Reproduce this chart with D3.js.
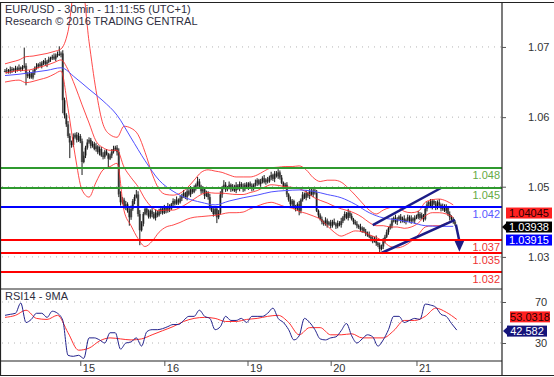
<!DOCTYPE html>
<html lang="en">
  <head>
    <meta charset="UTF-8" />
    <title>EUR/USD 30min</title>
    <script src="https://d3js.org/d3.v7.min.js"></script>
    <style>
      body { margin: 0; background: #fff; }
      svg { display: block; font-family: "Liberation Sans", Arial, sans-serif; }
      .grid { stroke: #b4b4b4; stroke-dasharray: 1, 5; }
      .frame { stroke: #222; stroke-width: 1.2; }
      .axis text { fill: #333; font-size: 11px; }
      .axis line { stroke: #555; }
      .axis path { display: none; }
    </style>
  </head>
  <body>
    <svg width="554" height="377"></svg>
    <script>
      // 30-min bars from 14 Dec, prices in pips above 1.0000 (630 = 1.0630)
      var closes = [
        630,631,629,632,633,631,634,632,635,633,636,638,
        625,622,626,620,628,
        634,637,640,638,642,645,641,644,
        648,650,652,649,654,656,655,657,
        585,562,548,530,520,516,
        528,532,524,530,522,
        490,500,512,
        520,524,515,518,510,514,
        505,510,500,498,506,502,495,500,
        506,510,512,505,
        440,428,
        432,420,425,415,405,418,
        430,436,440,
        410,385,395,
        410,418,412,406,415,410,404,412,408,414,
        418,412,420,415,422,418,
        425,430,426,432,428,434,
        438,442,436,445,440,448,444,450,
        455,460,452,
        445,448,438,442,436,
        420,415,410,418,405,412,
        440,450,455,448,
        450,455,448,452,446,454,450,456,452,448,455,451,457,453,449,455,
        458,462,456,460,465,459,463,460,
        466,470,464,472,468,474,466,
        458,452,455,
        440,432,425,430,420,418,425,415,
        432,440,435,442,438,445,440,446,443,
        415,408,402,
        398,395,400,394,397,392,398,395,391,396,393,399,
        405,410,404,412,407,402,
        398,395,392,390,386,388,383,380,378,
        375,372,368,372,365,362,
        356,360,
        368,375,382,388,392,
        400,404,398,402,406,400,403,398,401,405,399,403,400,404,
        406,410,404,408,402,
        418,425,428,422,430,426,420,428,
        424,418,422,415,420,
        410,405,402,398,394
      ];
      // wick above max(open, close) and below min(open, close), pips
      var wickUp = [
        3,4,2,5,3,2,4,3,5,2, 3,28,4,3,5,2,4,3,5,2, 4,3,2,5,3,4,2,3,5,3,
        4,12,3,5,4,3,5,4,3,6, 3,4,5,3,4,6,3,5,4,3, 4,3,5,2,4,3,5,3,4,2,
        3,4,5,3,4,6,5,4,3,5, 3,4,5,3,4,7,5,6,4,3, 4,3,5,2,4,3,5,3,4,2,
        3,4,2,5,3,2,4,3,5,2, 4,3,5,2,4,3,5,3,4,2, 7,4,3,5,2,4,3,5,3,4,
        2,3,4,5,3,7,4,3,5,2, 4,3,5,2,4,3,5,3,4,2, 3,4,2,5,3,2,4,3,5,2,
        4,3,5,2,4,4,5,3,4,2, 3,4,2,5,3,2,4,3,5,2, 4,3,5,2,4,5,5,3,4,2,
        3,4,2,5,3,2,4,3,5,2, 4,3,5,2,4,3,6,3,4,2, 3,4,2,5,3,2,4,3,5,2,
        4,3,5,2,4,3,5,3,4,2, 3,4,2,5,3,2,4,3,5,2, 4,3,5,2,4,3,5,3,4,2,
        3,4,2,5,3,2,4,3,5,2, 4,3,5,2,4,3,3,2
      ];
      var wickDn = [
        2,4,3,3,5,2,4,3,2,4, 3,2,17,3,4,2,3,4,2,3, 2,4,3,3,5,2,4,3,2,4,
        3,2,4,20,5,4,3,24,4,3, 2,4,3,3,20,2,4,3,2,4, 3,2,4,3,5,2,4,3,2,14,
        2,4,3,3,5,4,5,3,2,4, 3,13,4,3,5,2,4,23,2,4, 2,4,3,3,5,2,4,3,2,4,
        3,2,4,3,5,2,4,3,2,4, 2,4,3,3,5,2,4,3,2,4, 3,2,4,3,5,2,4,3,2,4,
        2,9,3,3,5,2,4,3,2,4, 3,2,4,3,5,2,4,3,2,4, 2,4,3,3,5,2,4,3,2,4,
        3,2,4,3,5,2,4,3,2,4, 2,4,3,3,5,2,4,3,7,4, 3,2,4,3,5,2,4,3,2,4,
        2,4,3,3,5,2,4,3,2,4, 3,2,4,3,5,2,4,3,2,4, 2,4,3,3,5,2,4,3,2,4,
        3,2,4,3,6,2,4,3,2,4, 2,4,3,3,5,2,4,3,2,4, 3,2,4,3,5,2,4,3,2,4,
        2,4,3,3,5,2,4,3,2,4, 3,2,4,3,5,2,3,2
      ];

      // Bollinger bands, one value every 4 bars (pips)
      var bbStep = 4;
      var bbUpper = [641,644,647,652,653,655,657,660,664,691,760,760,675,600,548,532,528,545,542,532,505,472,448,440,439,442,450,462,474,478,476,474,470,467,467,467,470,476,481,482,483,483,484,478,466,460,462,462,459,450,439,427,416,410,416,420,421,414,412,414,428,432,433,430,424];
      var bbMiddle = [627,629,631,631,633,636,639,643,647,632,607,578,550,522,512,508,508,482,466,452,433,420,415,416,416,420,426,433,440,443,442,442,441,440,440,443,446,451,455,454,452,451,449,444,436,431,427,422,418,415,411,405,397,392,392,390,390,388,390,396,407,412,412,410,405];
      var bbLower = [613,615,616,612,614,617,620,625,630,572,501,447,436,459,478,483,488,415,392,372,360,368,382,390,393,397,402,405,406,407,408,410,412,412,413,418,422,426,428,425,421,419,414,411,407,402,392,382,376,380,384,383,378,374,368,360,358,361,368,378,390,392,392,396,400];
      // 50-period moving average, one value every 8 bars (pips)
      var maStep = 8;
      var ma50 = [623,625,628,631,635,620,602,584,562,527,492,462,445,434,428,424,430,435,439,444,446,447,445,440,435,425,412,404,401,397,392,391,391];

      // RSI14 every 3 bars, its 9MA every 6 bars
      var rsiStep = 3;
      var rsi14 = [57,58,59,69,50,53,59,59,55,61, 59,52,18,17,18,15,35,35,33,30, 40,40,24,30,31,35,27,41,43,43,
        44,46,48,48,52,56,56,62,56,54, 43,46,56,52,52,54,50,56,56,56, 59,64,54,50,43,33,37,54,50,43,
        34,33,35,36,42,49,37,30,34,38, 36,27,33,43,56,56,50,52,54,53, 68,67,65,58,56,49,42.6];
      var rsiMaStep = 6;
      var rsiMa = [55,57,62,54,53,57,40,23,25,32, 35,34,33,34,38,42,46,51,54,55, 54,51,51,53,54,56,57,50,38,45,
        45,38,38,39,35,35,35,42,52,52, 56,64,60,53];

      var levelValues = [1.048, 1.045, 1.042, 1.037, 1.035, 1.032];
      var levelKinds = ["res", "res", "pivot", "sup", "sup", "sup"];
      var priceTicks = [1.0667, 1.0559, 1.0452, 1.0344];
      var rsiGrid = [70, 50, 30];
      var rsiTicks = [70, 30];
      var dayLabels = ["15", "16", "19", "20", "21"];
      var dayStarts = [43, 91, 138.5, 186, 235];

      // channel and forecast, [bar, pips]
      var channelTop = [[210, 393], [249, 450]];
      var channelBottom = [[215, 350], [257, 401]];
      var forecast = [[257.5, 394], [259.5, 368], [259.5, 352]];

      var priceBoxes = [1.04045, 1.03938, 1.03915];
      var priceBoxKinds = ["bb", "last", "ma"];
      var rsiBoxes = [53.0318, 42.582];

      var kindColor = { res: "#2f9a2f", pivot: "#0000ff", sup: "#ff0000" };
      var kindText = { res: "#66aa44", pivot: "#5a5aff", sup: "#ee3333" };

      var svg = d3.select("svg");
      var right = 502, mainTop = 3, mainBottom = 289, rsiBottom = 361;

      var x = d3.scaleLinear().domain([0, closes.length - 1]).range([5, 455]);
      var y = d3.scaleLinear().domain([450, 350]).range([188, 253]);
      var yr = d3.scaleLinear().domain([70, 30]).range([302, 343]);
      function pip(p) { return (p - 1) * 10000; }

      var defs = svg.append("defs");
      defs.append("clipPath").attr("id", "clipMain").append("rect")
        .attr("x", 1).attr("y", mainTop).attr("width", right - 1).attr("height", mainBottom - mainTop);
      defs.append("clipPath").attr("id", "clipRsi").append("rect")
        .attr("x", 1).attr("y", mainBottom).attr("width", right - 1).attr("height", rsiBottom - mainBottom);

      // grid
      svg.selectAll(".pg").data(priceTicks).enter().append("line")
        .attr("class", "grid").attr("x1", 2).attr("x2", right)
        .attr("y1", function (d) { return y(pip(d)); }).attr("y2", function (d) { return y(pip(d)); });
      svg.selectAll(".rg").data(rsiGrid).enter().append("line")
        .attr("class", "grid").attr("x1", 2).attr("x2", right)
        .attr("y1", function (d) { return yr(d); }).attr("y2", function (d) { return yr(d); });

      var main = svg.append("g").attr("clip-path", "url(#clipMain)");

      // bars
      var bars = closes.map(function (c, i) {
        var o = i ? closes[i - 1] : c;
        return { i: i, o: o, c: c, h: Math.max(o, c) + wickUp[i], l: Math.min(o, c) - wickDn[i] };
      });
      main.selectAll(".body").data(bars).enter().append("rect")
        .attr("x", function (d) { return x(d.i) - 1.2; })
        .attr("width", 2.4)
        .attr("y", function (d) { return y(Math.max(d.o, d.c)); })
        .attr("height", function (d) { return Math.max(1, Math.abs(y(d.o) - y(d.c))); })
        .attr("fill", "#8a8a8a");
      main.selectAll(".wick").data(bars).enter().append("line")
        .attr("x1", function (d) { return x(d.i); }).attr("x2", function (d) { return x(d.i); })
        .attr("y1", function (d) { return y(d.h); }).attr("y2", function (d) { return y(d.l); })
        .attr("stroke", "#000").attr("stroke-width", 0.9);

      function sampled(step, yy) {
        return d3.line().x(function (d, k) { return x(k * step); }).y(function (d) { return yy(d); }).curve(d3.curveMonotoneX);
      }
      [bbUpper, bbMiddle, bbLower].forEach(function (s) {
        main.append("path").attr("d", sampled(bbStep, y)(s))
          .attr("fill", "none").attr("stroke", "#ff2a2a").attr("stroke-width", 1).attr("opacity", 0.85);
      });
      main.append("path").attr("d", sampled(maStep, y)(ma50))
        .attr("fill", "none").attr("stroke", "#5050ff").attr("stroke-width", 1);

      // support / resistance levels
      levelValues.forEach(function (v, k) {
        var yy = Math.round(y(pip(v)));
        svg.append("line").attr("x1", 1).attr("x2", right).attr("y1", yy).attr("y2", yy)
          .attr("stroke", kindColor[levelKinds[k]]).attr("stroke-width", 2);
        svg.append("text").attr("x", 500).attr("y", yy + 11).attr("text-anchor", "end")
          .attr("font-size", "11px").attr("fill", kindText[levelKinds[k]]).text(v.toFixed(3));
      });

      // channel and forecast arrow
      var pl = d3.line().x(function (d) { return x(d[0]); }).y(function (d) { return y(d[1]); });
      [channelTop, channelBottom].forEach(function (c) {
        main.append("path").attr("d", pl(c)).attr("stroke", "#1c1c86").attr("stroke-width", 2.5).attr("fill", "none");
      });
      main.append("path").attr("d", pl(forecast.slice(0, 2)))
        .attr("stroke", "#1c1c86").attr("stroke-width", 2.5).attr("fill", "none");
      var tip = forecast[2], base = forecast[1];
      main.append("path")
        .attr("d", "M" + (x(base[0]) - 5.5) + "," + (y(base[1]) - 2) + "L" + (x(base[0]) + 5.5) + "," + (y(base[1]) - 2) +
          "L" + x(tip[0]) + "," + y(tip[1]) + "Z")
        .attr("fill", "#1c1c86");

      // RSI panel
      var rsiG = svg.append("g").attr("clip-path", "url(#clipRsi)");
      rsiG.append("path").attr("d", sampled(rsiMaStep, yr)(rsiMa))
        .attr("fill", "none").attr("stroke", "#ff3030").attr("stroke-width", 1);
      rsiG.append("path").attr("d", sampled(rsiStep, yr)(rsi14))
        .attr("fill", "none").attr("stroke", "#22228c").attr("stroke-width", 1);

      // frame
      svg.append("line").attr("class", "frame").attr("x1", 0).attr("x2", 554).attr("y1", 2.5).attr("y2", 2.5);
      svg.append("line").attr("class", "frame").attr("x1", 0.5).attr("x2", 0.5).attr("y1", 2).attr("y2", 376);
      svg.append("line").attr("class", "frame").attr("x1", right).attr("x2", right).attr("y1", 2).attr("y2", 376);
      svg.append("line").attr("class", "frame").attr("x1", 0).attr("x2", right).attr("y1", mainBottom).attr("y2", mainBottom);
      svg.append("line").attr("class", "frame").attr("x1", 0).attr("x2", right).attr("y1", rsiBottom).attr("y2", rsiBottom);
      svg.append("line").attr("class", "frame").attr("x1", 0).attr("x2", 554).attr("y1", 375.5).attr("y2", 375.5);

      // axes
      svg.append("g").attr("class", "axis").attr("transform", "translate(" + right + ",0)")
        .call(d3.axisRight(y).tickValues(priceTicks.map(pip))
          .tickFormat(function (d) { return (1 + d / 10000).toFixed(2); })
          .tickSize(4).tickPadding(22));
      svg.append("g").attr("class", "axis").attr("transform", "translate(" + right + ",0)")
        .call(d3.axisRight(yr).tickValues(rsiTicks).tickSize(4).tickPadding(29));
      var xa = svg.append("g").attr("class", "axis").attr("transform", "translate(0," + rsiBottom + ")")
        .call(d3.axisBottom(x).tickValues(dayStarts)
          .tickFormat(function (d, i) { return dayLabels[i]; }).tickSize(5));
      xa.selectAll("text").attr("text-anchor", "start").attr("x", 2).attr("y", 3);

      // value boxes on the price axis
      var boxFill = { bb: "#ff2020", last: "#000", ma: "#0000ff" };
      var boxTextColor = { bb: "#2a0000", last: "#fff", ma: "#fff" };
      var lastY = y(pip(priceBoxes[1])) + 2.5;
      var boxY = [lastY - 14, lastY, lastY + 13];
      priceBoxes.forEach(function (v, k) {
        var kind = priceBoxKinds[k], cy = boxY[k];
        if (kind === "last") {
          svg.append("path").attr("d", "M" + right + "," + cy + "L" + (right + 6) + "," + (cy - 5.5) + "L" + (right + 6) + "," + (cy + 5.5) + "Z")
            .attr("fill", boxFill[kind]);
        }
        svg.append("rect").attr("x", 506).attr("y", cy - 5.5).attr("width", 46).attr("height", 11).attr("fill", boxFill[kind]);
        svg.append("text").attr("x", 529).attr("y", cy + 4).attr("text-anchor", "middle")
          .attr("font-size", "11px").attr("fill", boxTextColor[kind]).text(v.toFixed(5));
      });
      var rsiBoxY = [yr(rsiBoxes[0]) - 2.5, yr(rsiBoxes[1]) + 1];
      svg.append("rect").attr("x", 510).attr("y", rsiBoxY[0] - 5.5).attr("width", 40).attr("height", 11).attr("fill", "#ff2020");
      svg.append("text").attr("x", 530).attr("y", rsiBoxY[0] + 4).attr("text-anchor", "middle")
        .attr("font-size", "11px").attr("fill", "#2a0000").text(rsiBoxes[0].toFixed(4));
      svg.append("path").attr("d", "M" + (right + 1) + "," + rsiBoxY[1] + "L" + (right + 7) + "," + (rsiBoxY[1] - 5.5) + "L" + (right + 7) + "," + (rsiBoxY[1] + 5.5) + "Z")
        .attr("fill", "#14147a");
      svg.append("rect").attr("x", 507).attr("y", rsiBoxY[1] - 5.5).attr("width", 40).attr("height", 11).attr("fill", "#14147a");
      svg.append("text").attr("x", 527).attr("y", rsiBoxY[1] + 4).attr("text-anchor", "middle")
        .attr("font-size", "11px").attr("fill", "#fff").text(rsiBoxes[1].toFixed(3));

      // titles
      svg.append("text").attr("x", 5).attr("y", 13).attr("font-size", "11px").attr("fill", "#2e2e3e")
        .text("EUR/USD - 30min - 11:11:55 (UTC+1)");
      svg.append("text").attr("x", 5).attr("y", 25).attr("font-size", "11px").attr("fill", "#2e2e3e")
        .text("Research \u00a9 2016 TRADING CENTRAL");
      svg.append("text").attr("x", 5).attr("y", 300).attr("font-size", "11px").attr("fill", "#2e2e3e")
        .text("RSI14 - 9MA");
    </script>
  </body>
</html>
